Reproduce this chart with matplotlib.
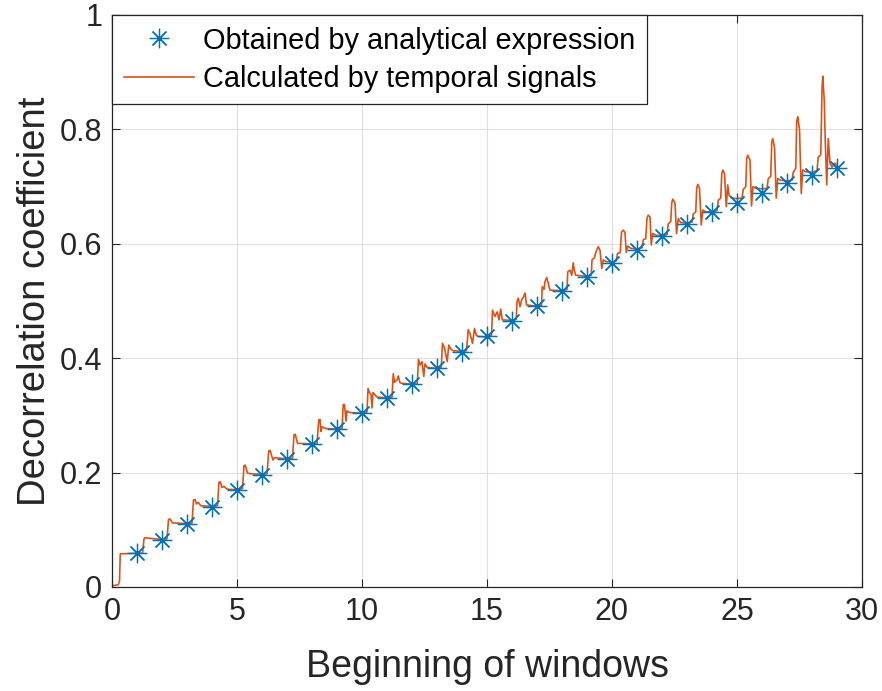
import matplotlib
matplotlib.use('Agg')
import matplotlib.pyplot as plt

# analytical values at integer window starts
window_start = list(range(1, 30))
analytical = [0.059, 0.082, 0.111, 0.140, 0.170, 0.196, 0.223, 0.250, 0.276, 0.304,
              0.330, 0.355, 0.383, 0.411, 0.438, 0.465, 0.491, 0.517, 0.542, 0.566,
              0.590, 0.614, 0.634, 0.655, 0.672, 0.689, 0.706, 0.721, 0.733]

# temporal-signal curve (one row per unit interval)
temporal_x = [
    0.0, 0.25, 0.3, 0.33, 1.0,
    1.22, 1.28, 1.32, 2.0,
    2.2, 2.26, 2.32, 2.42, 3.0,
    3.2, 3.26, 3.32, 3.38, 3.45, 3.55, 4.0,
    4.22, 4.28, 4.33, 4.4, 4.48, 4.6, 5.0,
    5.22, 5.28, 5.33, 5.42, 5.55, 6.0,
    6.2, 6.27, 6.32, 6.4, 6.44, 6.5, 7.0,
    7.22, 7.28, 7.33, 7.42, 7.55, 8.0,
    8.2, 8.27, 8.32, 8.36, 8.4, 8.55, 9.0,
    9.2, 9.25, 9.3, 9.36, 9.4, 9.5, 10.0,
    10.2, 10.24, 10.3, 10.36, 10.4, 10.44, 10.6, 11.0,
    11.2, 11.25, 11.3, 11.4, 11.45, 11.52, 11.6, 12.0,
    12.21, 12.26, 12.32, 12.4, 12.47, 12.52, 12.6, 13.0,
    13.17, 13.22, 13.3, 13.41, 13.47, 13.55, 13.65, 14.0,
    14.18, 14.25, 14.32, 14.42, 14.5, 14.57, 14.65, 15.0,
    15.18, 15.22, 15.32, 15.41, 15.48, 15.55, 15.61, 16.0,
    16.17, 16.2, 16.25, 16.32, 16.39, 16.45, 16.52, 16.58, 17.0,
    17.18, 17.21, 17.28, 17.32, 17.39, 17.45, 17.52, 18.0,
    18.2, 18.23, 18.32, 18.39, 18.45, 18.49, 18.55, 19.0,
    19.17, 19.2, 19.29, 19.36, 19.45, 19.52, 19.59, 19.65, 19.75, 20.0,
    20.17, 20.22, 20.33, 20.38, 20.45, 20.52, 20.57, 20.63, 20.75, 21.0,
    21.2, 21.25, 21.35, 21.4, 21.45, 21.52, 21.57, 21.63, 21.75, 22.0,
    22.2, 22.25, 22.35, 22.39, 22.43, 22.52, 22.58, 22.65, 22.75, 23.0,
    23.2, 23.25, 23.35, 23.39, 23.43, 23.5, 23.57, 23.63, 23.75, 24.0,
    24.2, 24.25, 24.35, 24.39, 24.43, 24.5, 24.57, 24.63, 24.68, 24.8, 25.0,
    25.2, 25.25, 25.35, 25.39, 25.43, 25.52, 25.58, 25.64, 25.75, 26.0,
    26.2, 26.25, 26.35, 26.39, 26.43, 26.5, 26.57, 26.63, 26.75, 27.0,
    27.2, 27.25, 27.35, 27.39, 27.43, 27.5, 27.57, 27.63, 27.75, 28.0,
    28.2, 28.25, 28.35, 28.4, 28.43, 28.49, 28.53, 28.59, 28.65, 28.72, 28.8, 28.92, 29.0,
]
temporal_y = [
    0.002, 0.004, 0.01, 0.058, 0.059,
    0.059, 0.084, 0.086, 0.083,
    0.084, 0.118, 0.119, 0.112, 0.111,
    0.112, 0.152, 0.153, 0.145, 0.148, 0.142, 0.141,
    0.142, 0.183, 0.184, 0.174, 0.176, 0.171, 0.170,
    0.172, 0.212, 0.213, 0.199, 0.198, 0.197,
    0.198, 0.238, 0.239, 0.228, 0.222, 0.226, 0.224,
    0.225, 0.266, 0.267, 0.251, 0.251, 0.250,
    0.251, 0.292, 0.293, 0.272, 0.280, 0.277, 0.276,
    0.277, 0.319, 0.319, 0.290, 0.308, 0.305, 0.304,
    0.306, 0.347, 0.340, 0.336, 0.313, 0.340, 0.332, 0.331,
    0.332, 0.373, 0.358, 0.362, 0.369, 0.357, 0.356, 0.355,
    0.356, 0.398, 0.388, 0.394, 0.368, 0.390, 0.384, 0.382,
    0.384, 0.426, 0.418, 0.394, 0.423, 0.416, 0.413, 0.412,
    0.413, 0.450, 0.443, 0.426, 0.452, 0.440, 0.438, 0.437,
    0.440, 0.484, 0.473, 0.481, 0.467, 0.486, 0.467, 0.466,
    0.468, 0.499, 0.505, 0.490, 0.503, 0.506, 0.514, 0.493, 0.491,
    0.492, 0.525, 0.520, 0.534, 0.541, 0.531, 0.519, 0.518,
    0.520, 0.551, 0.554, 0.545, 0.567, 0.554, 0.545, 0.543,
    0.545, 0.572, 0.575, 0.586, 0.595, 0.589, 0.557, 0.572, 0.569, 0.568,
    0.570, 0.583, 0.585, 0.620, 0.624, 0.620, 0.585, 0.596, 0.592, 0.591,
    0.593, 0.607, 0.609, 0.645, 0.650, 0.647, 0.598, 0.618, 0.615, 0.614,
    0.616, 0.635, 0.639, 0.672, 0.678, 0.671, 0.618, 0.644, 0.637, 0.636,
    0.638, 0.652, 0.656, 0.698, 0.704, 0.697, 0.633, 0.659, 0.656, 0.656,
    0.658, 0.676, 0.680, 0.722, 0.729, 0.723, 0.665, 0.703, 0.685, 0.680, 0.679,
    0.680, 0.695, 0.700, 0.750, 0.755, 0.746, 0.666, 0.700, 0.697, 0.696,
    0.697, 0.714, 0.718, 0.778, 0.784, 0.769, 0.680, 0.714, 0.711, 0.710,
    0.711, 0.725, 0.732, 0.815, 0.822, 0.800, 0.688, 0.729, 0.726, 0.725,
    0.728, 0.752, 0.755, 0.870, 0.893, 0.851, 0.780, 0.703, 0.784, 0.741, 0.734, 0.741, 0.736,
]

x_ticks = [0, 5, 10, 15, 20, 25, 30]
y_ticks = [0, 0.2, 0.4, 0.6, 0.8, 1]
y_tick_labels = ['0', '0.2', '0.4', '0.6', '0.8', '1']

plt.rcParams['font.family'] = ['Liberation Sans', 'DejaVu Sans']
dark = '#262626'

fig = plt.figure(figsize=(8.82, 6.91), dpi=100)
ax = fig.add_axes([112 / 882, 1 - 587 / 691, 750 / 882, 572 / 691])

ax.plot(window_start, analytical, linestyle='none', marker=(8, 2, 0),
        markersize=14, markeredgewidth=0.9, color='#0072BD',
        label='Obtained by analytical expression', zorder=3)
ax.plot(temporal_x, temporal_y, color='#D95319', linewidth=1.2,
        label='Calculated by temporal signals', zorder=2)

ax.set_xlim(0, 30)
ax.set_ylim(0, 1)
ax.set_xticks(x_ticks)
ax.set_yticks(y_ticks)
ax.set_yticklabels(y_tick_labels)
ax.grid(True, color='#dfdfdf', linewidth=0.8)
ax.set_axisbelow(True)
ax.tick_params(direction='in', length=6, width=0.8, colors=dark,
               labelsize=22, top=True, right=True, pad=7)
for s in ax.spines.values():
    s.set_color(dark)
    s.set_linewidth(0.9)

ax.set_xlabel('Beginning of windows', fontsize=27, color=dark, labelpad=16)
ax.set_ylabel('Decorrelation coefficient', fontsize=27.5, color=dark, labelpad=5)

leg = ax.legend(loc='upper left', fontsize=20.8, borderaxespad=0,
                fancybox=False, framealpha=1, edgecolor=dark,
                handlelength=2.45, handletextpad=0.3, labelspacing=0.35,
                borderpad=0.4)
leg.get_frame().set_linewidth(0.9)

fig.savefig('out.png', dpi=100)
